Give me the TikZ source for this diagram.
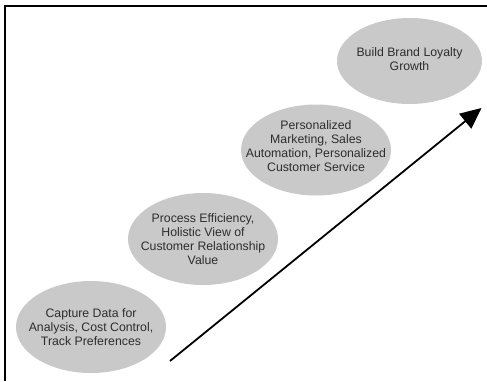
\documentclass[tikz,border=0pt]{standalone}
\usepackage{fontspec}
\setmainfont{Liberation Sans}
\usetikzlibrary{arrows.meta}

\definecolor{stagegray}{RGB}{201,201,201}
\definecolor{stagetext}{RGB}{45,45,45}

\tikzset{
    stagefill/.style={fill=stagegray, draw=none},
    stage/.style={inner sep=0pt, align=center, text=stagetext,
        font=\fontsize{12.3pt}{14pt}\selectfont},
    growth/.style={line width=1.8pt, -{Triangle[length=21pt, width=19pt]}}
}

\begin{document}
\begin{tikzpicture}[x=1pt, y=-1pt]
\useasboundingbox (0,0) rectangle (487,381);

% Frame (open to the right and bottom)
\draw[line width=2.4pt] (4.7,381) -- (4.7,6) -- (487,6);

% Stage backgrounds
\fill[stagefill] (91,327) ellipse [x radius=75pt, y radius=46pt];
\fill[stagefill] (203,239) ellipse [x radius=75pt, y radius=46pt];
\fill[stagefill] (316,150) ellipse [x radius=75pt, y radius=45.5pt];
\fill[stagefill] (409.5,61) ellipse [x radius=72.5pt, y radius=43pt];

% Stages
\node[stage] (capture) at (91,327)
    {Capture Data for\\Analysis, Cost Control,\\Track Preferences};
\node[stage] (process) at (203,239)
    {Process Efficiency,\\Holistic View of\\Customer Relationship\\Value};
\node[stage] (personal) at (316,146)
    {Personalized\\Marketing, Sales\\Automation, Personalized\\Customer Service};
\node[stage] (loyalty) at (409.5,59)
    {Build Brand Loyalty\\Growth};

% Growth arrow
\coordinate (start) at (170,361);
\coordinate (tip) at (481.5,108);
\draw[growth] (start) -- (tip);

\end{tikzpicture}
\end{document}
